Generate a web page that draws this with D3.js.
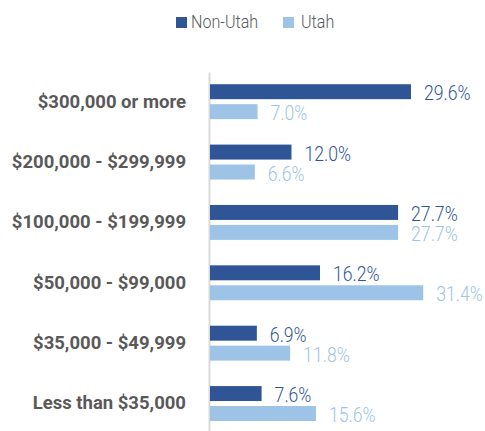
<!DOCTYPE html>
<html>
<head>
<meta charset="utf-8">
<script src="https://cdn.jsdelivr.net/npm/d3@7"></script>
<style>
  body { margin: 0; background: #fff; }
  .cat text { font-family: Roboto, "DejaVu Sans", sans-serif; font-weight: bold; font-size: 18.5px; fill: #595959; }
  .val, .legend { font-family: Roboto, "DejaVu Sans", sans-serif; font-weight: 300; }
</style>
</head>
<body>
<script>
// Household income brackets, top to bottom
const categories = ["$300,000 or more", "$200,000 - $299,999", "$100,000 - $199,999",
                    "$50,000 - $99,000", "$35,000 - $49,999", "Less than $35,000"];
const seriesNames = ["Non-Utah", "Utah"];
const nonUtah = [29.6, 12.0, 27.7, 16.2, 6.9, 7.6];
const utah = [7.0, 6.6, 27.7, 31.4, 11.8, 15.6];
const colors = ["#2F5597", "#9DC3E6"];

const width = 485, height = 431;
const squeeze = 0.84; // narrow the light text to look condensed

const data = categories.map((c, i) => ({ cat: c, values: [nonUtah[i], utah[i]] }));

const svg = d3.select("body").append("svg")
    .attr("width", width)
    .attr("height", height);

// scales
const x = d3.scaleLinear()
    .domain([0, 35])
    .range([210, 210 + 35 * 6.79]);

const y = d3.scaleBand()
    .domain(categories)
    .range([72, 431])
    .paddingInner(0.4215)
    .paddingOuter(0.184)
    .align(0.55);

const ySub = d3.scaleBand()
    .domain(seriesNames)
    .range([0, y.bandwidth()])
    .paddingInner(0.25);

// category axis
const axis = svg.append("g")
    .attr("class", "cat")
    .attr("transform", "translate(209,0)")
    .call(d3.axisLeft(y).tickSize(0).tickSizeOuter(0).tickPadding(23));
axis.select(".domain").attr("stroke", "#d9d9d9").attr("stroke-width", 2);

// bars
const groups = svg.append("g").selectAll("g")
    .data(data)
    .join("g")
    .attr("transform", d => `translate(0,${y(d.cat)})`);

groups.selectAll("rect")
    .data(d => d.values.map((v, i) => ({ v, s: seriesNames[i], i })))
    .join("rect")
    .attr("x", x(0))
    .attr("y", d => ySub(d.s))
    .attr("width", d => x(d.v) - x(0))
    .attr("height", ySub.bandwidth())
    .attr("fill", d => colors[d.i]);

groups.selectAll("text")
    .data(d => d.values.map((v, i) => ({ v, s: seriesNames[i], i })))
    .join("text")
    .attr("class", "val")
    .attr("transform", d => `translate(${x(d.v) + 13},${ySub(d.s) + 16}) scale(${squeeze},1)`)
    .attr("font-size", 21)
    .attr("fill", d => colors[d.i])
    .text(d => d.v.toFixed(1) + "%");

// legend
const legendX = [176, 283];
const legend = svg.append("g").selectAll("g")
    .data(seriesNames)
    .join("g")
    .attr("transform", (d, i) => `translate(${legendX[i]},17)`);
legend.append("rect")
    .attr("width", 11).attr("height", 11)
    .attr("fill", (d, i) => colors[i]);
legend.append("text")
    .attr("class", "legend")
    .attr("transform", (d, i) => `translate(${i === 0 ? 15 : 18},11) scale(0.87,1)`)
    .attr("font-size", 18.5)
    .attr("fill", "#595959")
    .text(d => d);
</script>
</body>
</html>
